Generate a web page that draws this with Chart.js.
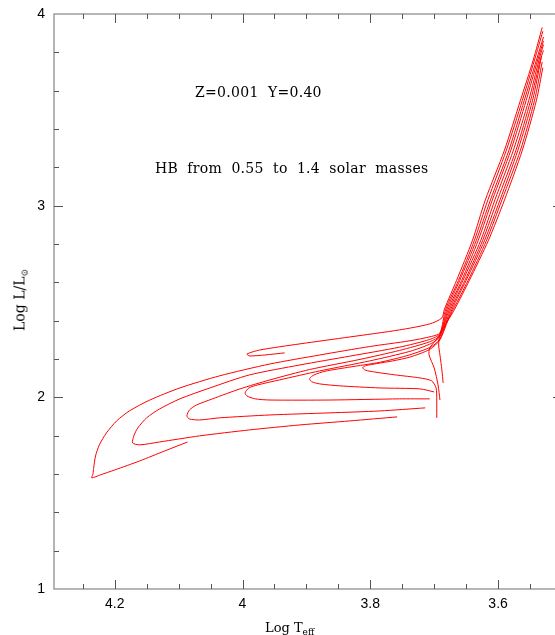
<!DOCTYPE html>
<html>
<head>
<meta charset="utf-8">
<script src="https://cdn.jsdelivr.net/npm/chart.js@4.4.1/dist/chart.umd.min.js"></script>
<style>
html, body { margin: 0; padding: 0; background: #fff; overflow: hidden; width: 555px; height: 635px; }
#wrap { position: relative; width: 575px; height: 635px; }
canvas { display: block; }
.txt { position: absolute; font-family: "DejaVu Serif"; font-size: 14px; line-height: 16px; color: #000; white-space: nowrap; }
.note { letter-spacing: 0.3px; word-spacing: 4.5px; }
.txt sub { font-size: 9px; vertical-align: -3px; letter-spacing: 0; }
</style>
</head>
<body>
<div id="wrap">
  <canvas id="hr" width="575" height="635" style="width:575px;height:635px"></canvas>
  <div class="txt note" style="left:195px; top:84px;">Z=0.001 Y=0.40</div>
  <div class="txt note" style="left:155px; top:160px;">HB from 0.55 to 1.4 solar masses</div>
  <div class="txt" style="left:265px; top:620px; font-size:13px;">Log T<sub>eff</sub></div>
  <div class="txt" style="left:22px; top:300px; transform: translate(-50%,-50%) rotate(-90deg);">Log L/L<sub>⊙</sub></div>
</div>
<script>
// HB tracks, [log Teff, log L/Lsun]
var track1 = [[4.086,1.767],[4.122,1.720],[4.161,1.668],[4.200,1.621],[4.222,1.596],[4.236,1.580],[4.234,1.600],[4.233,1.630],[4.230,1.694],[4.224,1.752],[4.213,1.814],[4.197,1.877],[4.177,1.929],[4.145,1.986],[4.098,2.049],[4.036,2.112],[3.957,2.174],[3.879,2.221],[3.801,2.265],[3.738,2.295],[3.704,2.318],[3.691,2.336],
  [3.682,2.46],[3.662,2.61],[3.637,2.82],[3.616,3.03],[3.587,3.29],[3.562,3.55],[3.543,3.76],[3.530,3.91]];
var track2 = [[3.758,1.898],[3.832,1.877],[3.910,1.856],[3.989,1.830],[4.067,1.799],[4.130,1.767],[4.161,1.752],[4.172,1.762],[4.170,1.799],[4.164,1.840],[4.150,1.893],[4.130,1.939],[4.098,1.992],[4.051,2.049],[3.989,2.117],[3.910,2.169],[3.832,2.215],[3.754,2.262],[3.707,2.302],[3.691,2.331],
  [3.680,2.46],[3.660,2.61],[3.634,2.82],[3.612,3.03],[3.583,3.29],[3.559,3.55],[3.540,3.76],[3.529,3.88]];
var track3 = [[3.714,1.945],[3.785,1.929],[3.863,1.919],[3.957,1.908],[4.036,1.893],[4.067,1.882],[4.083,1.887],[4.087,1.903],[4.083,1.934],[4.072,1.960],[4.047,1.992],[4.004,2.044],[3.957,2.091],[3.895,2.145],[3.816,2.198],[3.754,2.245],[3.707,2.290],[3.691,2.323],
  [3.678,2.46],[3.657,2.61],[3.631,2.82],[3.609,3.03],[3.580,3.29],[3.556,3.55],[3.538,3.76],[3.529,3.86]];
var track4 = [[3.707,1.992],[3.754,1.992],[3.863,1.986],[3.957,1.986],[3.980,1.992],[3.993,2.007],[3.996,2.023],[3.990,2.049],[3.976,2.065],[3.942,2.091],[3.879,2.138],[3.801,2.190],[3.738,2.240],[3.704,2.282],[3.691,2.318],
  [3.676,2.46],[3.655,2.61],[3.627,2.82],[3.605,3.03],[3.576,3.29],[3.552,3.55],[3.536,3.76],[3.529,3.84]];
var track5 = [[3.700,2.028],[3.722,2.044],[3.785,2.049],[3.848,2.060],[3.879,2.070],[3.892,2.082],[3.895,2.098],[3.888,2.117],[3.871,2.136],[3.832,2.158],[3.785,2.183],[3.738,2.222],[3.704,2.265],[3.691,2.305],
  [3.674,2.46],[3.652,2.61],[3.624,2.82],[3.601,3.03],[3.572,3.29],[3.549,3.55],[3.534,3.76],[3.529,3.81]];
var track6 = [[3.696,1.893],[3.696,1.986],[3.697,2.049],[3.704,2.086],[3.722,2.101],[3.761,2.117],[3.793,2.132],[3.808,2.142],[3.812,2.155],[3.806,2.166],[3.790,2.176],[3.765,2.190],[3.738,2.210],[3.707,2.250],[3.691,2.300],
  [3.672,2.46],[3.650,2.61],[3.621,2.82],[3.597,3.03],[3.569,3.29],[3.546,3.55],[3.532,3.78]];
var track7 = [[3.691,1.986],[3.694,2.065],[3.700,2.153],[3.708,2.221],[3.707,2.258],[3.697,2.299],[3.689,2.336],
  [3.670,2.46],[3.647,2.61],[3.618,2.82],[3.594,3.03],[3.565,3.29],[3.543,3.55],[3.531,3.75]];
var track8 = [[3.686,2.075],[3.688,2.143],[3.691,2.221],[3.693,2.273],[3.691,2.326],
  [3.668,2.46],[3.645,2.61],[3.615,2.82],[3.590,3.03],[3.562,3.29],[3.540,3.55],[3.530,3.72]];
var track9 = [[3.934,2.232],[3.965,2.221],[3.989,2.216],[3.993,2.226],[3.973,2.247],[3.910,2.279],[3.832,2.315],[3.754,2.352],[3.707,2.383],[3.688,2.414],
  [3.684,2.46],[3.665,2.61],[3.640,2.82],[3.620,3.03],[3.590,3.29],[3.565,3.55],[3.545,3.76],[3.531,3.93]];

var tracks = [track1, track2, track3, track4, track5, track6, track7, track8, track9];
var xTicks = [4.2, 4, 3.8, 3.6];
var yTicks = [1, 2, 3, 4];

Chart.defaults.font.family = 'Liberation Sans';
Chart.defaults.font.size = 14;
Chart.defaults.color = '#000';

// frame + inward ticks on all four sides
var frame = {
  id: 'frame',
  afterDraw: function (chart) {
    var ctx = chart.ctx, a = chart.chartArea;
    var x = chart.scales.x, y = chart.scales.y;
    ctx.save();
    ctx.strokeStyle = '#8f8f8f';
    ctx.lineWidth = 1.3;
    ctx.strokeRect(a.left, a.top, a.right - a.left, a.bottom - a.top);
    ctx.strokeStyle = '#555';
    ctx.lineWidth = 1;
    ctx.beginPath();
    for (var i = 1; i < 16; i++) {
      var v = 3.5 + i * 0.05;
      var big = xTicks.some(function (t) { return Math.abs(t - v) < 1e-6; });
      var len = big ? 9 : 5;
      var px = Math.round(x.getPixelForValue(v)) + 0.5;
      ctx.moveTo(px, a.bottom); ctx.lineTo(px, a.bottom - len);
      ctx.moveTo(px, a.top); ctx.lineTo(px, a.top + len);
    }
    for (var j = 1; j < 15; j++) {
      var w = 1 + j * 0.2;
      var bigy = yTicks.some(function (t) { return Math.abs(t - w) < 1e-6; });
      var leny = bigy ? 9 : 5;
      var py = Math.round(y.getPixelForValue(w)) + 0.5;
      ctx.moveTo(a.left, py); ctx.lineTo(a.left + leny, py);
      ctx.moveTo(a.right, py); ctx.lineTo(a.right - leny, py);
    }
    ctx.stroke();
    ctx.restore();
  }
};

var myChart = new Chart(document.getElementById('hr'), {
  type: 'scatter',
  data: {
    datasets: tracks.map(function (t) {
      return {
        data: t.map(function (p) { return { x: p[0], y: p[1] }; }),
        showLine: true,
        borderColor: 'rgb(255,0,0)',
        borderWidth: 1,
        pointRadius: 0,
        tension: 0.25,
        fill: false
      };
    })
  },
  options: {
    responsive: false,
    animation: false,
    events: [],
    layout: { padding: { top: 14, right: 13, left: 0, bottom: 0 } },
    plugins: { legend: { display: false }, tooltip: { enabled: false } },
    scales: {
      x: {
        type: 'linear',
        reverse: true,
        min: 3.5,
        max: 4.295,
        grid: { display: false, drawTicks: false },
        border: { display: false },
        afterBuildTicks: function (s) { s.ticks = xTicks.map(function (v) { return { value: v }; }); },
        afterFit: function (s) { s.height = 46; s.paddingLeft = 0; s.paddingRight = 0; },
        ticks: { padding: 7, maxRotation: 0, autoSkip: false, callback: function (v) { return String(v); } }
      },
      y: {
        type: 'linear',
        min: 1,
        max: 4,
        grid: { display: false, drawTicks: false },
        border: { display: false },
        afterBuildTicks: function (s) { s.ticks = yTicks.map(function (v) { return { value: v }; }); },
        afterFit: function (s) { s.width = 54; s.paddingTop = 0; s.paddingBottom = 0; },
        ticks: { padding: 9, autoSkip: false, callback: function (v) { return String(v); } }
      }
    }
  },
  plugins: [frame]
});
</script>
</body>
</html>
